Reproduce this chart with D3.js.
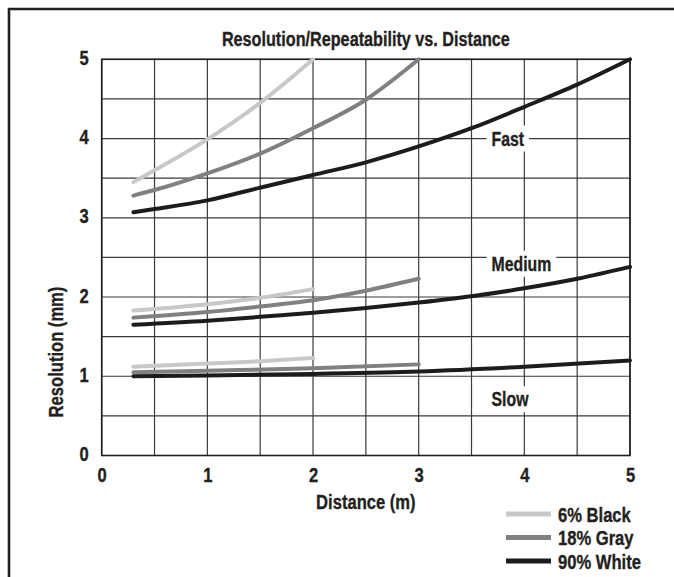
<!DOCTYPE html>
<html>
<head>
<meta charset="utf-8">
<script src="https://cdn.jsdelivr.net/npm/d3@7"></script>
<style>
  body { margin: 0; background: #fff; }
  svg text { font-family: "Liberation Sans", Arial, sans-serif; font-weight: bold; fill: #231f20; stroke: #231f20; stroke-width: 0.35px; }
</style>
</head>
<body>
<div id="chart"></div>
<script>
// chart data
var seriesNames = ["6% Black", "18% Gray", "90% White"];
var seriesColors = ["#c8c8c8", "#808080", "#1e1b1c"];

// fast curves (distance m, resolution mm)
var fastBlackX = [0.3, 0.5, 1, 1.5, 2];
var fastBlackY = [3.45, 3.6, 3.99, 4.45, 5.0];
var fastGrayX = [0.3, 0.5, 1, 1.5, 2, 2.5, 3];
var fastGrayY = [3.28, 3.35, 3.56, 3.81, 4.13, 4.49, 5.0];
var fastWhiteX = [0.3, 0.5, 1, 1.5, 2, 2.5, 3, 3.5, 4, 4.5, 5];
var fastWhiteY = [3.07, 3.11, 3.22, 3.38, 3.54, 3.7, 3.9, 4.13, 4.4, 4.68, 5.0];

// medium curves
var medBlackX = [0.3, 1, 1.5, 2];
var medBlackY = [1.83, 1.91, 1.99, 2.1];
var medGrayX = [0.3, 1, 1.5, 2, 2.5, 3];
var medGrayY = [1.74, 1.81, 1.88, 1.96, 2.08, 2.23];
var medWhiteX = [0.3, 1, 1.5, 2, 2.5, 3, 3.5, 4, 4.5, 5];
var medWhiteY = [1.65, 1.7, 1.75, 1.8, 1.86, 1.93, 2.01, 2.11, 2.23, 2.38];

// slow curves
var slowBlackX = [0.3, 1, 1.5, 2];
var slowBlackY = [1.12, 1.16, 1.19, 1.23];
var slowGrayX = [0.3, 1, 2, 3];
var slowGrayY = [1.05, 1.07, 1.1, 1.15];
var slowWhiteX = [0.3, 1, 2, 3, 4, 5];
var slowWhiteY = [1.0, 1.01, 1.03, 1.06, 1.12, 1.2];

// speed labels
var speedNames = ["Fast", "Medium", "Slow"];
var speedX = [3.69, 3.69, 3.69];
var speedY = [4.0, 2.42, 0.71];

var xTicks = [0, 1, 2, 3, 4, 5];
var yTicks = [0, 1, 2, 3, 4, 5];
var gridSteps = [0, 0.5, 1, 1.5, 2, 2.5, 3, 3.5, 4, 4.5, 5];

// set width and height
var svgWidth = 674;
var svgHeight = 577;

var margin = { top: 59.3, left: 101.7, right: 44, bottom: 121.5 };
var width = svgWidth - margin.left - margin.right;
var height = svgHeight - margin.top - margin.bottom;

// narrow bold look: squeeze text horizontally
var squeeze = 0.79;
function condense(sel) {
  sel.each(function() {
    var t = d3.select(this);
    var x = +t.attr("x") || 0;
    var y = +t.attr("y") || 0;
    var pre = t.attr("transform") || "";
    t.attr("x", 0).attr("y", 0)
      .attr("transform", `${pre} translate(${x}, ${y}) scale(${squeeze}, 1)`);
  });
}

var svg = d3.select("#chart")
  .append("svg")
  .attr("width", svgWidth)
  .attr("height", svgHeight);

// outer frame, cut off right and bottom
svg.append("path")
  .attr("d", "M9,590 L9,9 L690,9")
  .attr("fill", "none")
  .attr("stroke", "#231f20")
  .attr("stroke-width", 2.6);

var chartGroup = svg.append("g")
  .attr("transform", `translate(${margin.left}, ${margin.top})`);

var xScale = d3.scaleLinear().domain([0, 5]).range([0, width]);
var yScale = d3.scaleLinear().domain([0, 5]).range([height, 0]);

// grid
chartGroup.append("g")
  .selectAll("line")
  .data(gridSteps)
  .enter()
  .append("line")
  .attr("x1", d => xScale(d))
  .attr("x2", d => xScale(d))
  .attr("y1", 0)
  .attr("y2", height)
  .attr("stroke", "#3a3a3a")
  .attr("stroke-width", 1.2);

chartGroup.append("g")
  .selectAll("line")
  .data(gridSteps)
  .enter()
  .append("line")
  .attr("y1", d => yScale(d))
  .attr("y2", d => yScale(d))
  .attr("x1", 0)
  .attr("x2", width)
  .attr("stroke", "#3a3a3a")
  .attr("stroke-width", 1.2);

chartGroup.append("rect")
  .attr("width", width)
  .attr("height", height)
  .attr("fill", "none")
  .attr("stroke", "#231f20")
  .attr("stroke-width", 1.6);

// axes
var bottomAxis = d3.axisBottom(xScale).tickValues(xTicks).tickFormat(d3.format("d")).tickSize(0).tickPadding(12);
var leftAxis = d3.axisLeft(yScale).tickValues(yTicks).tickFormat(d3.format("d")).tickSize(0).tickPadding(13);

var xAxisG = chartGroup.append("g")
  .attr("transform", `translate(0, ${height})`)
  .call(bottomAxis);
var yAxisG = chartGroup.append("g")
  .call(leftAxis);

xAxisG.select(".domain").remove();
yAxisG.select(".domain").remove();
xAxisG.attr("font-family", null).attr("font-size", null);
yAxisG.attr("font-family", null).attr("font-size", null);
xAxisG.selectAll("text")
  .style("font-size", "21px")
  .attr("fill", "#231f20")
  .call(condense);
yAxisG.selectAll("text")
  .style("font-size", "21px")
  .attr("fill", "#231f20")
  .attr("dy", "0.24em")
  .call(condense);

// curves
var line = d3.line()
  .x(d => xScale(d[0]))
  .y(d => yScale(d[1]))
  .curve(d3.curveMonotoneX);

var curves = [
  [fastWhiteX, fastWhiteY, 2], [fastGrayX, fastGrayY, 1], [fastBlackX, fastBlackY, 0],
  [medWhiteX, medWhiteY, 2], [medGrayX, medGrayY, 1], [medBlackX, medBlackY, 0],
  [slowBlackX, slowBlackY, 0], [slowGrayX, slowGrayY, 1], [slowWhiteX, slowWhiteY, 2]
];

chartGroup.append("g")
  .selectAll("path")
  .data(curves)
  .enter()
  .append("path")
  .attr("d", c => line(d3.zip(c[0], c[1])))
  .attr("fill", "none")
  .attr("stroke", c => seriesColors[c[2]])
  .attr("stroke-width", 4)
  .attr("stroke-linecap", "round");

// speed labels on white boxes
var labelG = chartGroup.append("g")
  .selectAll("g")
  .data(speedNames)
  .enter()
  .append("g")
  .attr("transform", (d, i) => `translate(${xScale(speedX[i])}, ${yScale(speedY[i])})`);

labelG.append("text")
  .attr("dy", "0.36em")
  .style("font-size", "20px")
  .text(d => d)
  .call(condense);

labelG.each(function() {
  var g = d3.select(this);
  var bb = g.select("text").node().getBBox();
  g.insert("rect", "text")
    .attr("x", -5)
    .attr("y", -13)
    .attr("width", bb.width * squeeze + 10)
    .attr("height", 26)
    .attr("fill", "#fff");
});

// title and axis labels
svg.append("text")
  .attr("x", margin.left + width / 2)
  .attr("y", 46)
  .attr("text-anchor", "middle")
  .style("font-size", "20.5px")
  .text("Resolution/Repeatability vs. Distance")
  .call(condense);

svg.append("text")
  .attr("x", margin.left + width / 2)
  .attr("y", 509)
  .attr("text-anchor", "middle")
  .style("font-size", "21px")
  .text("Distance (m)")
  .call(condense);

svg.append("text")
  .attr("transform", "rotate(-90)")
  .attr("x", -352)
  .attr("y", 63)
  .attr("text-anchor", "middle")
  .style("font-size", "21px")
  .text("Resolution (mm)")
  .call(condense);

// legend
var legend = svg.append("g")
  .selectAll("g")
  .data(seriesNames)
  .enter()
  .append("g")
  .attr("transform", (d, i) => `translate(506, ${514 + i * 23.5})`);

legend.append("line")
  .attr("x1", 0)
  .attr("x2", 45)
  .attr("stroke", (d, i) => seriesColors[i])
  .attr("stroke-width", 5);

legend.append("text")
  .attr("x", 52)
  .attr("dy", "0.36em")
  .style("font-size", "21px")
  .text(d => d)
  .call(condense);
</script>
</body>
</html>
